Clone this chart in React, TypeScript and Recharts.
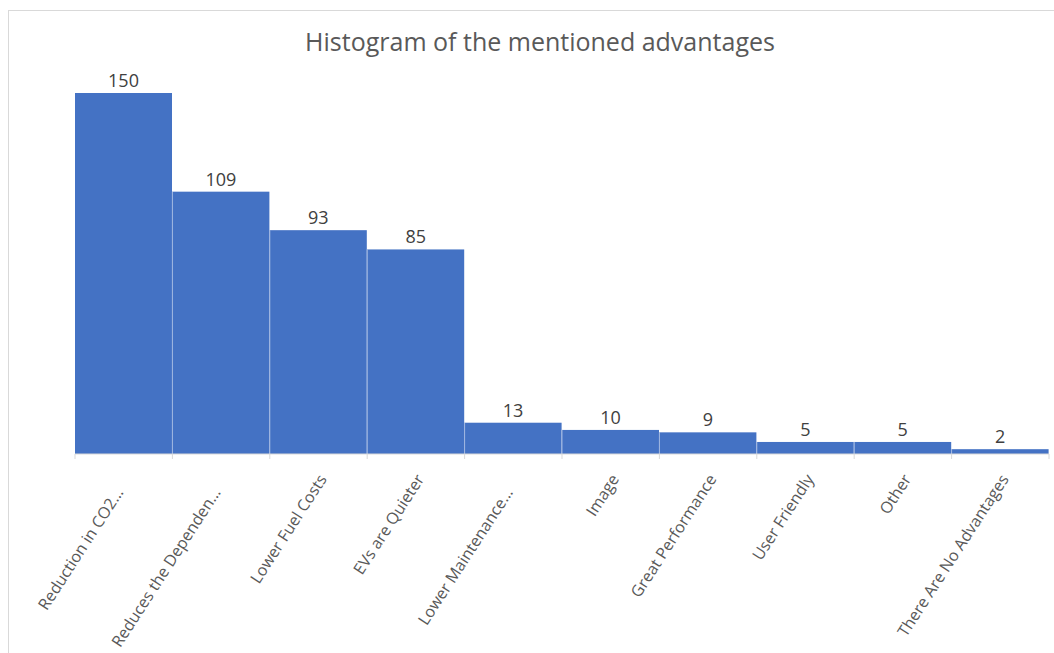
import React from 'react';
import { BarChart, Bar, XAxis, YAxis, LabelList } from 'recharts';

const categories = [
    'Reduction in CO2…',
    'Reduces the Dependen…',
    'Lower Fuel Costs',
    'EVs are Quieter',
    'Lower Maintenance…',
    'Image',
    'Great Performance',
    'User Friendly',
    'Other',
    'There Are No Advantages',
];
const counts = [150, 109, 93, 85, 13, 10, 9, 5, 5, 2];

const data = categories.map((name, i) => ({ name, count: counts[i] }));

const FONT = '"Open Sans", "Liberation Sans", sans-serif';
const BAR_COLOR = '#4472C4';
const AXIS_COLOR = '#d9d9d9';

// bar body plus a thin light divider on its left edge
const BinShape = (props: any) => {
    const { x, y, width, height, index } = props;
    return (
        <g>
            <rect x={x} y={y} width={width} height={height} fill={BAR_COLOR} />
            {index > 0 && (
                <line x1={x} y1={y} x2={x} y2={y + height} stroke="#9db4e0" strokeWidth={1} />
            )}
        </g>
    );
};

// rotated label, with small tick marks on the bin edges
const AngledTick = ({ x, y, payload, index, visibleTicksCount }: any) => {
    const half = payload.offset || 0;
    const tx = x + 9;
    const ty = y + 25;
    const last = index === visibleTicksCount - 1;
    // shortened labels sit a little further from the axis
    const shift = String(payload.value).endsWith('…') ? -16 : 0;
    return (
        <g>
            <line x1={x - half} y1={y} x2={x - half} y2={y + 5} stroke={AXIS_COLOR} />
            {last && <line x1={x + half} y1={y} x2={x + half} y2={y + 5} stroke={AXIS_COLOR} />}
            <text
                x={tx}
                y={ty}
                dx={shift}
                transform={`rotate(-57, ${tx}, ${ty})`}
                textAnchor="end"
                fontSize={16}
                fontFamily={FONT}
                fill="#595959"
            >
                {payload.value}
            </text>
        </g>
    );
};

export default function App() {
    return (
        <div
            style={{
                position: 'absolute',
                left: 8,
                top: 10,
                width: 1046,
                height: 643,
                borderTop: '1px solid #d9d9d9',
                borderLeft: '1px solid #d9d9d9',
                overflow: 'hidden',
                background: '#fff',
            }}
        >
            <div
                style={{
                    position: 'absolute',
                    top: 13,
                    left: 0,
                    width: 1062,
                    textAlign: 'center',
                    fontFamily: FONT,
                    fontSize: 25,
                    color: '#595959',
                    whiteSpace: 'nowrap',
                }}
            >
                Histogram of the mentioned advantages
            </div>
            <BarChart
                width={1045}
                height={642}
                data={data}
                barCategoryGap={0}
                margin={{ top: 82, right: 5, left: 66, bottom: 9 }}
            >
                <XAxis
                    dataKey="name"
                    interval={0}
                    tickLine={false}
                    tickSize={0}
                    tickMargin={0}
                    axisLine={{ stroke: AXIS_COLOR }}
                    tick={<AngledTick />}
                    height={190}
                />
                <YAxis hide domain={[0, 150]} />
                <Bar dataKey="count" shape={<BinShape />} isAnimationActive={false}>
                    <LabelList
                        dataKey="count"
                        position="top"
                        offset={6}
                        fill="#404040"
                        fontSize={18}
                        fontFamily={FONT}
                    />
                </Bar>
            </BarChart>
        </div>
    );
}
